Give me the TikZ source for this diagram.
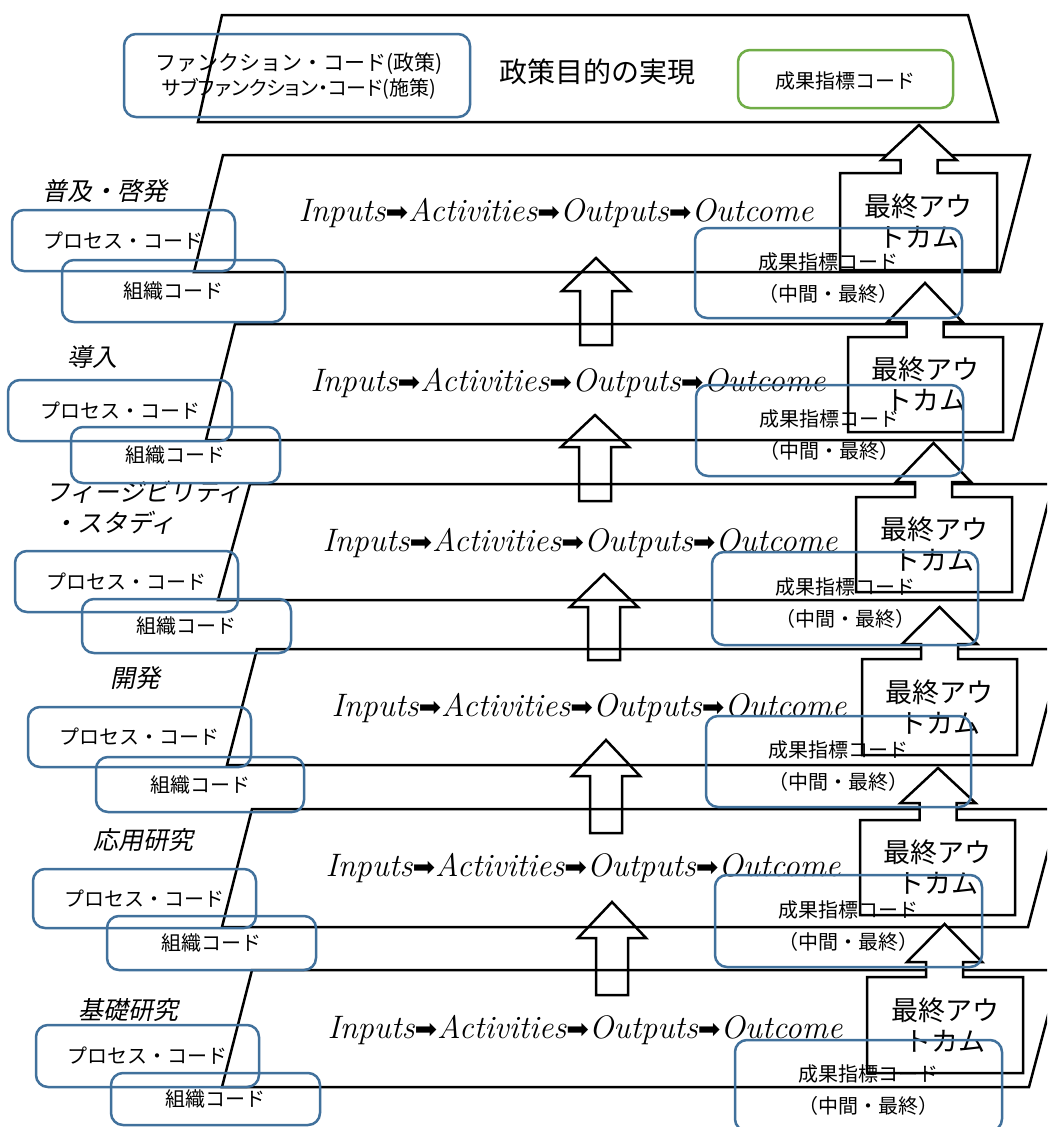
\documentclass[tikz,border=0pt]{standalone}
\usepackage{fontspec}
\newfontfamily\jp{Noto Sans CJK JP}
\newfontfamily\jpit[FakeSlant=0.2]{Noto Sans CJK JP}
\newfontfamily\jpp[RawFeature=+palt]{Noto Sans CJK JP}
\newfontfamily\arrfont{DejaVu Sans}
\definecolor{bluebox}{RGB}{65,113,156}
\definecolor{greenbox}{RGB}{112,173,71}
\tikzset{
  layer/.style={draw=black, line width=2.5pt, fill=white},
  hollow/.style={draw=black, line width=2.5pt},
  callbox/.style={draw=black, line width=2.5pt, fill=white},
  codebox/.style={draw=bluebox, line width=2.5pt, rounded corners=12pt},
  goalbox/.style={draw=greenbox, line width=2.5pt, rounded corners=12pt},
  codetext/.style={inner sep=0pt, font=\jp\fontsize{20}{24}\selectfont},
  outtext/.style={inner sep=0pt, align=center, font=\jp\fontsize{27}{31}\selectfont},
  layertext/.style={inner sep=0pt, font=\jpit\fontsize{25}{29}\selectfont},
  flowtext/.style={inner sep=0pt, font=\itshape\fontsize{32.5}{36}\selectfont}
}
\newcommand{\flowarrow}{{\arrfont\upshape\fontsize{27}{27}\selectfont ➡}}
\newcommand{\flowline}{Inputs\flowarrow Activities\flowarrow Outputs\flowarrow Outcome}
% hollow arrow: cx, apex y, wing y, bottom y
\newcommand{\hollowarrow}[4]{%
  \draw[hollow] (#1,#2) -- ({#1+34},#3) -- ({#1+16},#3) -- ({#1+16},#4) -- ({#1-16},#4) -- ({#1-16},#3) -- ({#1-34},#3) -- cycle;}
% outcome callout: left, right, top, bottom, shaft centre, wing y, apex y, name
\newcommand{\outcomebox}[8]{%
  \draw[callbox] (#1,#3) -- ({#5-18.5},#3) -- ({#5-18.5},#6) -- ({#5-37.5},#6) -- (#5,#7) -- ({#5+37.5},#6) -- ({#5+18.5},#6) -- ({#5+18.5},#3) -- (#2,#3) -- (#2,#4) -- (#1,#4) -- cycle;
  \node[outtext] (#8) at ({(#1+#2)/2},{(#3+#4)/2}) {最終アウ\\トカム};}
% indicator box: left, right, top, bottom, name
\newcommand{\indbox}[5]{%
  \draw[codebox] (#1,#3) rectangle (#2,#4);
  \node[codetext] (#5a) at ({(#1+#2)/2},{(#3+#4)/2-11.5}) {成果指標コード};
  \node[codetext] (#5b) at ({(#1+#2)/2},{(#3+#4)/2+20.5}) {（中間・最終）};}
% left code boxes: process box (l,t,r,b), organisation box (l,t,r,b), name
\newcommand{\leftboxes}[9]{%
  \draw[codebox] (#1,#2) rectangle (#3,#4);
  \node[codetext] (#9p) at ({(#1+#3)/2},{(#2+#4)/2}) {プロセス・コード};
  \draw[codebox] (#5,#6) rectangle (#7,#8);
  \node[codetext] (#9o) at ({(#5+#7)/2},{(#6+#8)/2}) {組織コード};}
\begin{document}
\begin{tikzpicture}[x=1pt,y=-1pt]
\useasboundingbox[fill=white] (0,0) rectangle (1047,1127);
\clip (0,0) rectangle (1047,1127);
% ---- parallelograms
\draw[layer] (222,15) -- (968,15) -- (998,122) -- (198,122) -- cycle;
\draw[layer] (223,155) -- (1030,155) -- (1000,272) -- (194,272) -- cycle;
\draw[layer] (235,324) -- (1042,324) -- (1013,440) -- (206,440) -- cycle;
\draw[layer] (250,484) -- (1053,484) -- (1023,600) -- (218,600) -- cycle;
\draw[layer] (257,649) -- (1062,649) -- (1032,765) -- (227,765) -- cycle;
\draw[layer] (252,809) -- (1059,809) -- (1028,927) -- (222,927) -- cycle;
\draw[layer] (252,970) -- (1060,970) -- (1029,1087) -- (222,1087) -- cycle;
% ---- central hollow arrows
\hollowarrow{596}{258}{291}{345}
\hollowarrow{595}{415}{447}{501}
\hollowarrow{604}{574}{607}{660}
\hollowarrow{606}{740}{776}{833}
\hollowarrow{612}{902}{938}{995}
% ---- outcome callouts
\outcomebox{840}{997}{173}{270}{919}{160}{125}{out1}
\outcomebox{848}{1003}{337}{432}{925}{322}{283}{out2}
\outcomebox{856}{1012}{497}{592}{933.5}{482}{443}{out3}
\outcomebox{862}{1017}{659}{755}{939.5}{644}{607}{out4}
\outcomebox{860}{1015}{820}{915}{938}{803}{768}{out5}
\outcomebox{867}{1023}{977}{1073}{944.5}{962}{924}{out6}
% ---- top level
\node[inner sep=0pt, font=\jp\fontsize{28}{32}\selectfont] (goal) at (597,72) {政策目的の実現};
\draw[codebox] (124,34) rectangle (470,117);
\node[inner sep=0pt, font=\jp\fontsize{21}{24}\selectfont] (func1) at (299,64) {ファンクション・コード(政策)};
\node[inner sep=0pt, font=\jpp\fontsize{20}{24}\selectfont] (func2) at (299,89) {サブファンクション・コード(施策)};
\draw[goalbox] (738,50) rectangle (953,108);
\node[codetext] (topind) at (845,81) {成果指標コード};
% ---- flow texts
\node[flowtext] (flow1) at (556,213) {\flowline};
\node[flowtext] (flow2) at (568,383) {\flowline};
\node[flowtext] (flow3) at (580,543) {\flowline};
\node[flowtext] (flow4) at (589,708) {\flowline};
\node[flowtext] (flow5) at (583,868) {\flowline};
\node[flowtext] (flow6) at (585,1030) {\flowline};
% ---- layer labels
\node[layertext] (lab1) at (105,191) {普及・啓発};
\node[layertext] (lab2) at (92,357) {導入};
\node[layertext, anchor=west] (lab3a) at (45,492) {フィージビリティ};
\node[layertext, anchor=west] (lab3b) at (52,523) {・スタディ};
\node[layertext] (lab4) at (135,678) {開発};
\node[layertext] (lab5) at (143,840) {応用研究};
\node[layertext] (lab6) at (128,1010) {基礎研究};
% ---- indicator boxes
\indbox{695}{962}{228}{318}{ind1}
\indbox{696}{963}{385}{476}{ind2}
\indbox{712}{978}{552}{645}{ind3}
\indbox{706}{971}{716}{807}{ind4}
\indbox{715}{982}{875}{967}{ind5}
\indbox{735}{1002}{1040}{1131}{ind6}
% ---- left code boxes
\leftboxes{12}{210}{235}{271}{62}{260}{285}{322}{c1}
\leftboxes{8}{380}{232}{441}{71}{427}{280}{483}{c2}
\leftboxes{15}{551}{238}{612}{82}{599}{291}{653}{c3}
\leftboxes{28}{707}{251}{767}{96}{757}{304}{812}{c4}
\leftboxes{33}{869}{256}{928}{107}{916}{316}{970}{c5}
\leftboxes{36}{1025}{259}{1087}{111}{1073}{320}{1125}{c6}
\end{tikzpicture}
\end{document}
